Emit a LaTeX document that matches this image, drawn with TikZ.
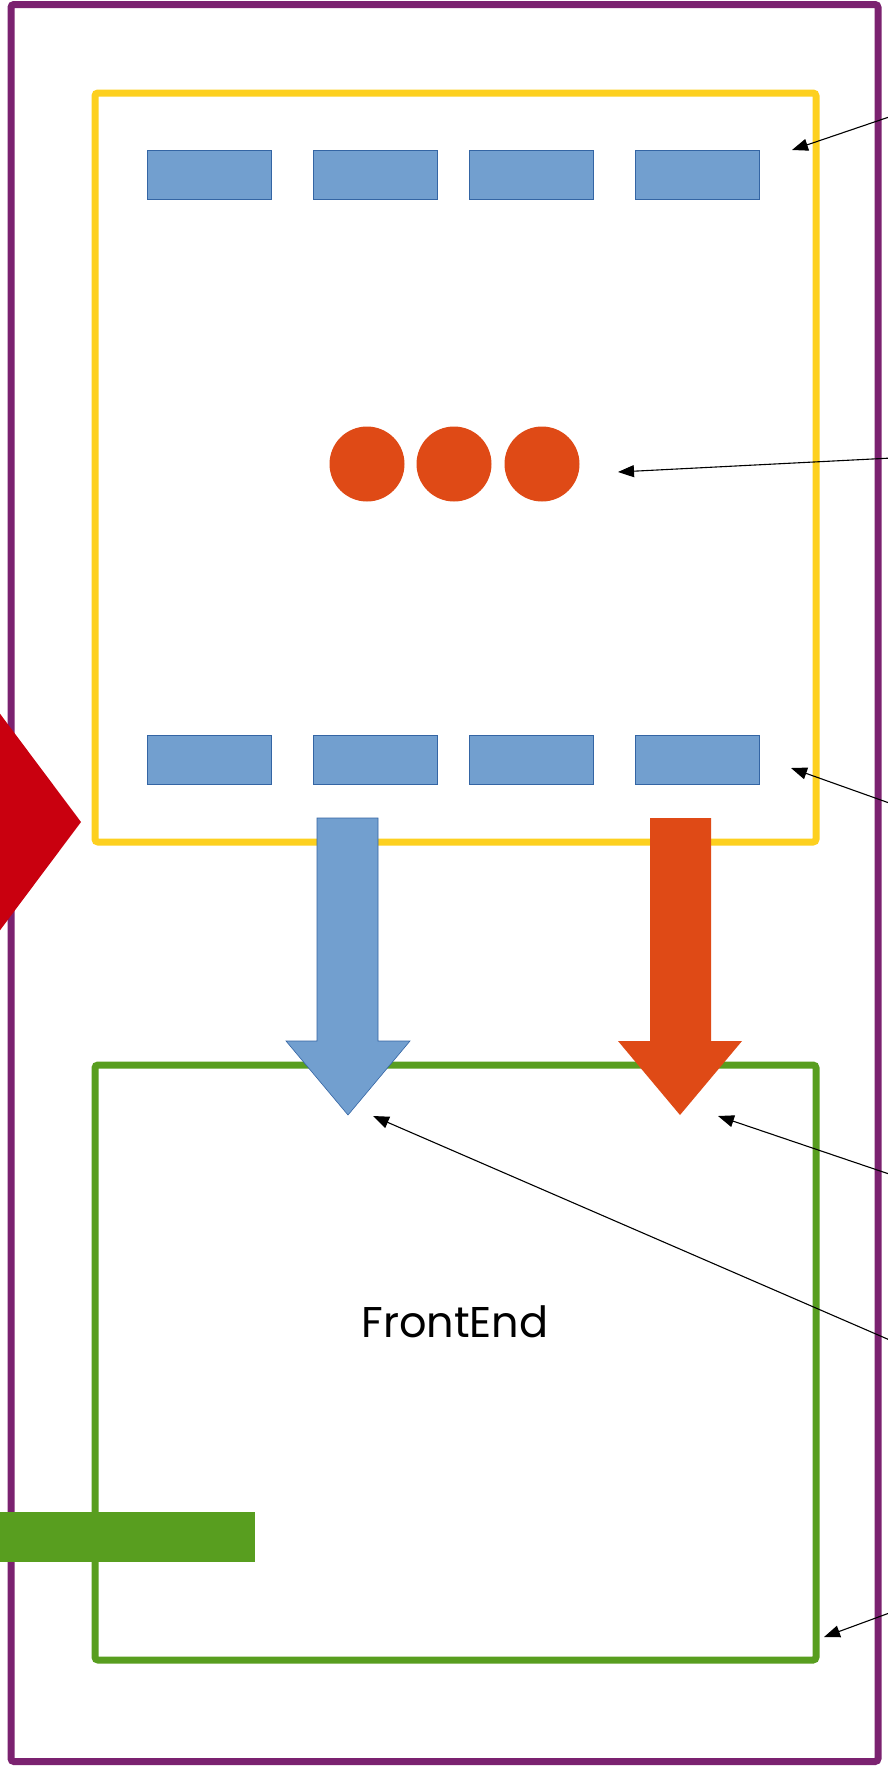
\documentclass[tikz,border=0pt]{standalone}
\usepackage{fontspec}
\newfontfamily\labelfont{Poppins}
\usetikzlibrary{arrows.meta}
\definecolor{framepurple}{HTML}{7B2270}
\definecolor{boxyellow}{HTML}{FDD01F}
\definecolor{boxgreen}{HTML}{589E1F}
\definecolor{tileblue}{HTML}{729FCF}
\definecolor{tileedge}{HTML}{3465A4}
\definecolor{dotorange}{HTML}{DF4A16}
\definecolor{markred}{HTML}{C9000F}
\tikzset{
  outerframe/.style={draw=framepurple, line width=7pt, rounded corners=3pt, minimum width=867pt, minimum height=1757pt, inner sep=0pt},
  section/.style={line width=7pt, rounded corners=3pt, minimum width=721pt, inner sep=0pt},
  tile/.style={fill=tileblue, draw=tileedge, line width=0.6pt, minimum width=124pt, minimum height=49pt, inner sep=0pt},
  dot/.style={circle, fill=dotorange, minimum size=75pt, inner sep=0pt},
  flowarrow/.style={line width=0.6pt},
  note/.style={draw=black, line width=1.1pt, -{Triangle[length=16pt,width=12pt]}},
}
\begin{document}
\begin{tikzpicture}[x=1pt,y=-1pt]
\useasboundingbox (0,0) rectangle (888,1772);
\fill[white] (0,0) rectangle (888,1772);
\begin{scope}
\clip (0,0) rectangle (888,1772);

% outer container
\node[outerframe] (outer) at (444.5,883) {};

% upper section with tiles and dots
\node[section, draw=boxyellow, minimum height=749pt] (upper) at (455.5,467.5) {};
\node[tile] (t1) at (209,174.5) {};
\node[tile] (t2) at (375,174.5) {};
\node[tile] (t3) at (531,174.5) {};
\node[tile] (t4) at (697,174.5) {};
\node[dot] (d1) at (367,464) {};
\node[dot] (d2) at (454,464) {};
\node[dot] (d3) at (542,464) {};
\node[tile] (b1) at (209,759.5) {};
\node[tile] (b2) at (375,759.5) {};
\node[tile] (b3) at (531,759.5) {};
\node[tile] (b4) at (697,759.5) {};

% lower section
\node[section, draw=boxgreen, minimum height=595pt] (lower) at (455.5,1362.5) {};
\node[font=\labelfont\fontsize{43}{48}\selectfont] (fe) at (455,1322) {FrontEnd};

% flow arrows between the sections
\filldraw[flowarrow, fill=tileblue, draw=tileedge]
  (317,818) -- (378,818) -- (378,1041) -- (410,1041) -- (348,1115)
  -- (286,1041) -- (317,1041) -- cycle;
\fill[dotorange]
  (650,818) -- (711,818) -- (711,1041) -- (742,1041) -- (680,1115)
  -- (618,1041) -- (650,1041) -- cycle;

% incoming marker on the left
\fill[markred] (-20,687) -- (81,822) -- (-20,957) -- cycle;

% green bar on the lower left
\node[fill=boxgreen, minimum width=265pt, minimum height=50pt, inner sep=0pt] (bar) at (122.5,1537) {};

% annotation leaders
\coordinate (s1) at (892,116);
\coordinate (e1) at (792,150);
\coordinate (s2) at (892,458);
\coordinate (e2) at (618,472);
\coordinate (s3) at (892,804);
\coordinate (e3) at (791,768);
\coordinate (s4) at (892,1175);
\coordinate (e4) at (718,1116);
\coordinate (s5) at (892,1341);
\coordinate (e5) at (373,1116);
\coordinate (s6) at (892,1612);
\coordinate (e6) at (824,1637);
\draw[note] (s1) -- (e1);
\draw[note] (s2) -- (e2);
\draw[note] (s3) -- (e3);
\draw[note] (s4) -- (e4);
\draw[note] (s5) -- (e5);
\draw[note] (s6) -- (e6);
\end{scope}
\end{tikzpicture}
\end{document}
